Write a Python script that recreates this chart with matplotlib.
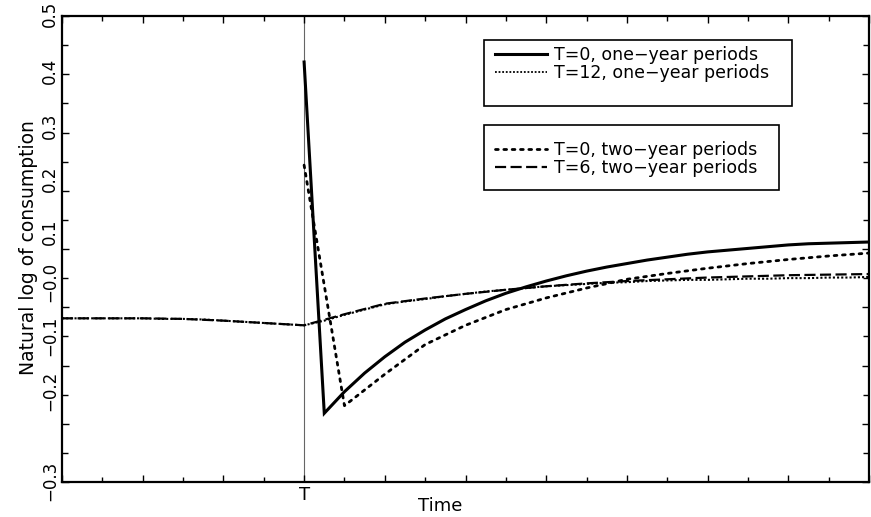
import numpy as np
import matplotlib
matplotlib.use("Agg")
import matplotlib.pyplot as plt
from matplotlib.patches import Rectangle
from matplotlib.lines import Line2D

# ---------------- data (log consumption, x in years, T = year 12) ----------------
T_SHOCK = 12

years_one = list(range(0, 41))
years_two = list(range(0, 41, 2))

# T=0, one-year periods (starts at T)
years_solid = list(range(12, 41))
c_solid = [0.421, -0.182, -0.145, -0.113, -0.085, -0.060, -0.039, -0.020, -0.004, 0.011,
           0.024, 0.035, 0.045, 0.054, 0.062, 0.069, 0.075, 0.081, 0.086, 0.091,
           0.095, 0.098, 0.101, 0.104, 0.107, 0.109, 0.110, 0.111, 0.112]

# T=12, one-year periods
c_one12 = [-0.019, -0.019, -0.019, -0.019, -0.019, -0.020, -0.020, -0.021, -0.023, -0.025,
           -0.027, -0.029, -0.031, -0.023, -0.013, -0.004, 0.005, 0.010, 0.014, 0.019,
           0.023, 0.027, 0.030, 0.033, 0.036, 0.038, 0.040, 0.042, 0.043, 0.045,
           0.046, 0.047, 0.047, 0.048, 0.049, 0.049, 0.050, 0.050, 0.051, 0.051, 0.052]

# T=0, two-year periods (starts at T)
years_dot2 = list(range(12, 41, 2))
c_two0 = [0.244, -0.169, -0.115, -0.064, -0.031, -0.004, 0.016, 0.033, 0.048, 0.058,
          0.067, 0.075, 0.082, 0.088, 0.093]

# T=6, two-year periods
c_two6 = [-0.019, -0.019, -0.019, -0.020, -0.023, -0.027, -0.031, -0.012, 0.006, 0.015,
          0.023, 0.030, 0.036, 0.041, 0.045, 0.048, 0.051, 0.053, 0.055, 0.056, 0.057]

ytick_vals = [-0.3, -0.2, -0.1, 0.0, 0.1, 0.2, 0.3, 0.4, 0.5]
ytick_text = ["\u22120.3", "\u22120.2", "\u22120.1", "\u22120.0", "0.1", "0.2", "0.3", "0.4", "0.5"]
ytick_px = [481, 391, 336, 282, 232, 179, 126, 71, 14]   # where the old program put the labels

W, H = 871, 517
plt.rcParams['font.family'] = ['DejaVu Sans']
fig = plt.figure(figsize=(W / 100, H / 100), dpi=100)
ax = fig.add_axes([62 / W, 1 - 482 / H, 807 / W, 466 / H])

ax.axvline(T_SHOCK, color='#666666', lw=0.8, zorder=1)

ax.plot(years_solid, c_solid, color='black', lw=2.2, solid_joinstyle='miter')
ax.plot(years_one, c_one12, color='black', lw=1.5, ls=(0, (1, 1)))
ax.plot(years_dot2, c_two0, color='black', lw=2.0, ls=(0, (1, 2)), dash_capstyle='round')
ax.plot(years_two, c_two6, color='black', lw=1.6, ls=(0, (5, 2)))

ax.set_xlim(0, 40)
ax.set_ylim(-0.3, 0.5)
for s in ax.spines.values():
    s.set_linewidth(1.6)

ax.set_xticks(np.arange(0, 41, 4))
ax.set_xticklabels(['T' if v == T_SHOCK else '' for v in np.arange(0, 41, 4)], fontsize=13)
ax.set_xticks(np.arange(0, 41, 2), minor=True)
ax.set_yticks(ytick_vals)
ax.set_yticklabels([])
ax.set_yticks(np.arange(-0.3, 0.51, 0.05), minor=True)
ax.tick_params(which='both', direction='in', top=True, right=True, width=1.0)
ax.tick_params(axis='x', pad=3)
ax.tick_params(which='major', length=5)
ax.tick_params(which='minor', length=3.5)
ax.tick_params(axis='y', which='minor', length=4.5)

for v, txt, py in zip(ytick_vals, ytick_text, ytick_px):
    fig.text(50 / W, 1 - py / H, txt, rotation=90, ha='center', va='center', fontsize=12)

fig.text(29 / W, 1 - 248 / H, "Natural log of consumption", rotation=90,
         ha='center', va='center', fontsize=13.5)
fig.text(440 / W, 1 - 506 / H, "Time", ha='center', va='center', fontsize=13)

# legends: two boxes
h1 = [Line2D([], [], color='black', lw=2.2),
      Line2D([], [], color='black', lw=1.3, ls=(0, (1, 1)))]
h2 = [Line2D([], [], color='black', lw=2.0, ls=(0, (1, 2)), dash_capstyle='round'),
      Line2D([], [], color='black', lw=1.6, ls=(0, (5, 2)))]
lab1 = ["T=0, one\u2212year periods", "T=12, one\u2212year periods"]
lab2 = ["T=0, two\u2212year periods", "T=6, two\u2212year periods"]

for hs, ls_, top, box in [(h1, lab1, 46, (484, 40, 308, 66)), (h2, lab2, 141, (484, 125, 295, 65))]:
    lg = fig.legend(hs, ls_, loc='upper left', bbox_to_anchor=(495 / W, 1 - top / H),
                    frameon=False, fontsize=12.5, handlelength=3.0, handletextpad=0.4,
                    labelspacing=0.0, borderpad=0, borderaxespad=0)
    x0, y0, bw, bh = box
    fig.add_artist(Rectangle((x0 / W, 1 - (y0 + bh) / H), bw / W, bh / H,
                             transform=fig.transFigure, fill=False, ec='black', lw=1.2))

fig.savefig("out.png", dpi=100)
